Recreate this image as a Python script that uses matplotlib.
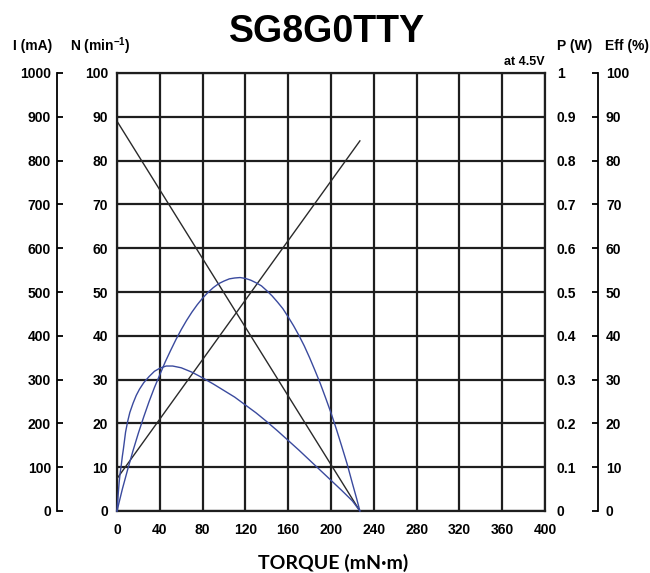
import matplotlib.pyplot as plt

# motor characteristics (torque in mN·m)
torque_lin = [0, 227]
speed = [89, 0]            # min^-1
current = [74, 845]        # mA

torque_p = [0, 5, 10, 15, 20, 25, 30, 35, 40, 45, 50, 55, 60, 65, 70, 75, 80,
            85, 90, 95, 100, 105, 110, 115, 120, 125, 130, 135, 140, 145, 150,
            155, 160, 165, 170, 175, 180, 185, 190, 195, 200, 205, 210, 215,
            220, 224, 227]
power = [0, 0.05, 0.095, 0.138, 0.178, 0.215, 0.25, 0.282, 0.311, 0.34, 0.366,
         0.391, 0.414, 0.435, 0.454, 0.471, 0.486, 0.499, 0.51, 0.519, 0.525,
         0.53, 0.532, 0.533, 0.531, 0.527, 0.521, 0.514, 0.503, 0.491, 0.477,
         0.462, 0.443, 0.423, 0.401, 0.377, 0.35, 0.321, 0.291, 0.258, 0.224,
         0.187, 0.148, 0.108, 0.063, 0.028, 0]   # W

torque_e = [0, 1, 2, 3, 4, 5, 6, 8, 10, 12, 15, 18, 21, 25, 30, 35, 40, 46, 52,
            60, 70, 80, 90, 100, 110, 120, 130, 140, 150, 160, 170, 180, 190,
            200, 210, 220, 227]
eff = [0, 3.5, 6.5, 8.8, 10.5, 12.5, 14.2, 18, 20.5, 22.5, 24.6, 26.4, 27.8,
       29.3, 30.7, 31.9, 32.6, 33.1, 33.1, 32.7, 31.7, 30.4, 29.0, 27.5, 26.0,
       24.2, 22.4, 20.4, 18.3, 16.1, 13.9, 11.6, 9.3, 7.0, 4.7, 2.3, 0]   # %

x_ticks = list(range(0, 401, 40))
n_ticks = list(range(0, 101, 10))
i_ticks = list(range(0, 1001, 100))
p_ticks = [i / 10 for i in range(11)]
p_labels = ["0", "0.1", "0.2", "0.3", "0.4", "0.5", "0.6", "0.7", "0.8", "0.9", "1"]
e_ticks = list(range(0, 101, 10))

W, H = 650, 573
SANS = "Liberation Sans"
GRID = "#1e1e1e"
BLUE = "#3a4a9e"

plt.rcParams["font.family"] = [SANS, "DejaVu Sans"]
plt.rcParams["font.weight"] = "bold"
plt.rcParams["mathtext.fontset"] = "custom"
plt.rcParams["mathtext.rm"] = "Liberation Sans:bold"
plt.rcParams["mathtext.default"] = "rm"

fig = plt.figure(figsize=(W / 100, H / 100), dpi=100)
rect = [117 / W, 1 - 511 / H, (545 - 117) / W, (511 - 73) / H]


def px2pt(p):
    return p * 72 / 100


# main axes: torque / speed, carries the grid
ax = fig.add_axes(rect)
ax.set_xlim(0, 400)
ax.set_ylim(0, 100)
ax.set_xticks(x_ticks)
ax.set_yticks(n_ticks)
ax.grid(True, color=GRID, lw=1.6)
for sp in ax.spines.values():
    sp.set_color(GRID)
    sp.set_linewidth(1.6)
ax.tick_params(axis="both", length=0, labelsize=10)
ax.tick_params(axis="y", pad=px2pt(9))
ax.tick_params(axis="x", pad=px2pt(12))
ax.set_axisbelow(True)
ax.plot(torque_lin, speed, color="#2a2a2a", lw=1.0)


def side_axes(ylim):
    a = fig.add_axes(rect)
    a.patch.set_visible(False)
    for sp in a.spines.values():
        sp.set_visible(False)
    a.set_xlim(0, 400)
    a.set_ylim(*ylim)
    a.xaxis.set_visible(False)
    return a


# current axis (far left, bracket with inward ticks)
ax_i = side_axes((0, 1000))
ax_i.set_yticks(i_ticks)
ax_i.spines["left"].set_visible(True)
ax_i.spines["left"].set_position(("outward", px2pt(60)))
ax_i.spines["left"].set_linewidth(1.3)
ax_i.tick_params(axis="y", direction="in", length=px2pt(6), width=1.3,
                 labelsize=10, pad=px2pt(6))
ax_i.plot(torque_lin, current, color="#2a2a2a", lw=1.0)

# power axis (labels only, right of grid)
ax_p = side_axes((0, 1))
ax_p.yaxis.tick_right()
ax_p.set_yticks(p_ticks)
ax_p.set_yticklabels(p_labels)
ax_p.tick_params(axis="y", length=0, labelsize=10, pad=px2pt(12))
ax_p.plot(torque_p, power, color=BLUE, lw=1.0, clip_on=False)

# efficiency axis (far right bracket)
ax_e = side_axes((0, 100))
ax_e.yaxis.tick_right()
ax_e.set_yticks(e_ticks)
ax_e.spines["right"].set_visible(True)
ax_e.spines["right"].set_position(("outward", px2pt(53)))
ax_e.spines["right"].set_linewidth(1.3)
ax_e.tick_params(axis="y", direction="in", length=px2pt(6), width=1.3,
                 labelsize=10, pad=px2pt(8))
ax_e.plot(torque_e, eff, color=BLUE, lw=1.0, clip_on=False)


# headers
def ftext(x, y, s, **kw):
    fig.text(x / W, 1 - y / H, s, **kw)


ftext(327, 32, "SG8G0TTY", ha="center", va="center", fontsize=27)
ftext(13, 46, "I (mA)", ha="left", va="center", fontsize=10)
ftext(70, 46, "N (min$^{-1}$)", ha="left", va="center", fontsize=10)
ftext(557, 46, "P (W)", ha="left", va="center", fontsize=10)
ftext(605, 46, "Eff (%)", ha="left", va="center", fontsize=10)
ftext(545, 62, "at 4.5V", ha="right", va="center", fontsize=9)
ftext(333, 563, "TORQUE (mN·m)", ha="center", va="center", fontsize=14,
      family=["Lato", "DejaVu Sans"])

fig.savefig("out.png", dpi=100)
